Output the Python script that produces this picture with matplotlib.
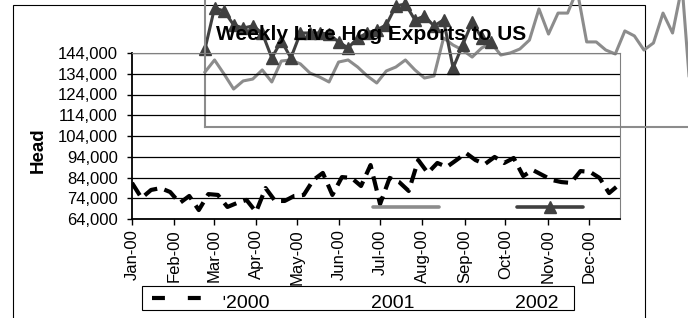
import numpy as np
import matplotlib
matplotlib.use('Agg')
import matplotlib.pyplot as plt
from matplotlib.lines import Line2D
from matplotlib.patches import Rectangle

plt.rcParams['font.family'] = ['Liberation Sans', 'DejaVu Sans']

W, H = 688, 318

# weekly head counts
v2000 = [81400, 74100, 78000, 78900, 77000, 71700, 75100, 68300, 76000, 75600,
         69800, 71700, 73200, 67400, 78900, 72700, 72700, 75100, 75600, 82800,
         86200, 75600, 84200, 83800, 79900, 90000, 71200, 83800, 81800, 77500,
         92400, 86200, 91000, 89100, 92400, 95800, 92400, 90500, 93900, 91000,
         93400, 84700, 87600, 85200, 82800, 81800, 81400, 87100, 86700, 83800,
         76500, 80400]
v2001 = [90500, 96300, 89500, 82300, 86200, 87100, 91500, 85700, 95800, 96300,
         94400, 90000, 88100, 85700, 95300, 96300, 92900, 88600, 85200, 91000,
         92900, 96300, 91500, 87600, 88600, 106900, 103500, 101100, 97700, 102100,
         104500, 98700, 99700, 101600, 105900, 120900, 108800, 118900, 118900, 130000,
         105000, 105000, 101100, 99200, 110300, 107900, 101100, 104500, 118900, 109300,
         132000, 72200]
v2002 = [101600, 121400, 119900, 113200, 111700, 112700, 109300, 97300, 105500, 97300,
         109300, 109300, 109300, 108800, 105000, 102100, 106900, 109300, 110800, 113200,
         122300, 123300, 115600, 117500, 112700, 115600, 92400, 103500, 114600, 106900,
         105000]

month_days = [0, 31, 60, 91, 121, 152, 182, 213, 244, 274, 305, 335]
month_labels = ['Jan-00', 'Feb-00', 'Mar-00', 'Apr-00', 'May-00', 'Jun-00',
                'Jul-00', 'Aug-00', 'Sep-00', 'Oct-00', 'Nov-00', 'Dec-00']
yticks = [64000, 74000, 84000, 94000, 104000, 114000, 124000, 134000, 144000]

c2001 = '#8c8c8c'
c2002 = '#404040'

fig = plt.figure(figsize=(6.88, 3.18), dpi=100)


def fx(x):
    return x / W


def fy(y):
    return 1 - y / H


# the 2001/2002 series sit in a second plot area that spills off the chart
ax2 = fig.add_axes([fx(205), fy(127), 488 / W, 166 / H], zorder=1)
ax2.patch.set_visible(False)
ax2.plot(np.arange(len(v2001)) * 7, v2001, color=c2001, lw=2.2, clip_on=False)
ax2.plot(np.arange(len(v2002)) * 7, v2002, color=c2002, lw=2.2, marker='^', ms=8.5,
         clip_on=False)
ax2.set_xlim(0, 358)
ax2.set_ylim(64000, 144000)
ax2.set_xticks([])
ax2.set_yticks([])
for s in ['top', 'right']:
    ax2.spines[s].set_visible(False)
for s in ['left', 'bottom']:
    ax2.spines[s].set_color(c2001)
    ax2.spines[s].set_linewidth(1.5)

ax = fig.add_axes([fx(132), fy(219), 488 / W, 166 / H], zorder=2)
ax.patch.set_visible(False)
ax.plot(np.arange(len(v2000)) * 7, v2000, color='black', lw=3,
        linestyle=(0, (3.5, 1.8)), dash_capstyle='butt')
ax.set_xlim(0, 358)
ax.set_ylim(64000, 144000)
ax.set_yticks(yticks)
ax.set_yticklabels([f'{v:,}' for v in yticks])
ax.set_xticks(month_days)
ax.set_xticklabels(month_labels, rotation=90)
ax.yaxis.grid(True, color='black', lw=0.9)
ax.set_axisbelow(True)
ax.tick_params(axis='y', length=3.6, width=1, pad=6.5, labelsize=12)
ax.tick_params(axis='x', length=4.3, width=1, pad=3, labelsize=12)
for s in ['left', 'bottom']:
    ax.spines[s].set_linewidth(1.3)
for s in ['top', 'right']:
    ax.spines[s].set_color('#808080')
    ax.spines[s].set_linewidth(0.8)

fig.text(fx(371), fy(39.5), 'Weekly Live Hog Exports to US', ha='center', va='baseline',
         fontsize=15, fontweight='bold', zorder=5)
fig.text(fx(38.5), fy(150), 'Head', rotation=90, ha='center', va='center',
         fontsize=13.5, fontweight='bold')

# chart border
fig.add_artist(Rectangle((fx(13), fy(330)), (645 - 13) / W, (330 - 5) / H,
                         transform=fig.transFigure, fill=False, ec='black', lw=0.8))

# legend, with the 2001/2002 keys knocked out of place as in the original
fig.add_artist(Rectangle((fx(142), fy(310)), 432 / W, 24 / H, transform=fig.transFigure,
                         fc='white', ec='black', lw=0.8, zorder=3))
fig.add_artist(Line2D([fx(152), fx(225)], [fy(298), fy(298)], transform=fig.transFigure,
                      color='black', lw=3, linestyle=(0, (3.1, 5.5)), zorder=4))
for x, lab in [(226, '2000'), (371, '2001'), (515, '2002')]:
    fig.text(fx(x), fy(308), lab, ha='left', va='baseline', fontsize=14, zorder=4)
fig.add_artist(Line2D([fx(373), fx(439)], [fy(207), fy(207)], transform=fig.transFigure,
                      color=c2001, lw=2.6, solid_capstyle='round', zorder=4))
fig.add_artist(Line2D([fx(517), fx(583)], [fy(207), fy(207)], transform=fig.transFigure,
                      color=c2002, lw=2.6, solid_capstyle='round', zorder=4))
fig.add_artist(Line2D([fx(550)], [fy(207)], transform=fig.transFigure, color=c2002,
                      marker='^', ms=9, lw=0, zorder=4))

fig.savefig('out.png', dpi=100)
